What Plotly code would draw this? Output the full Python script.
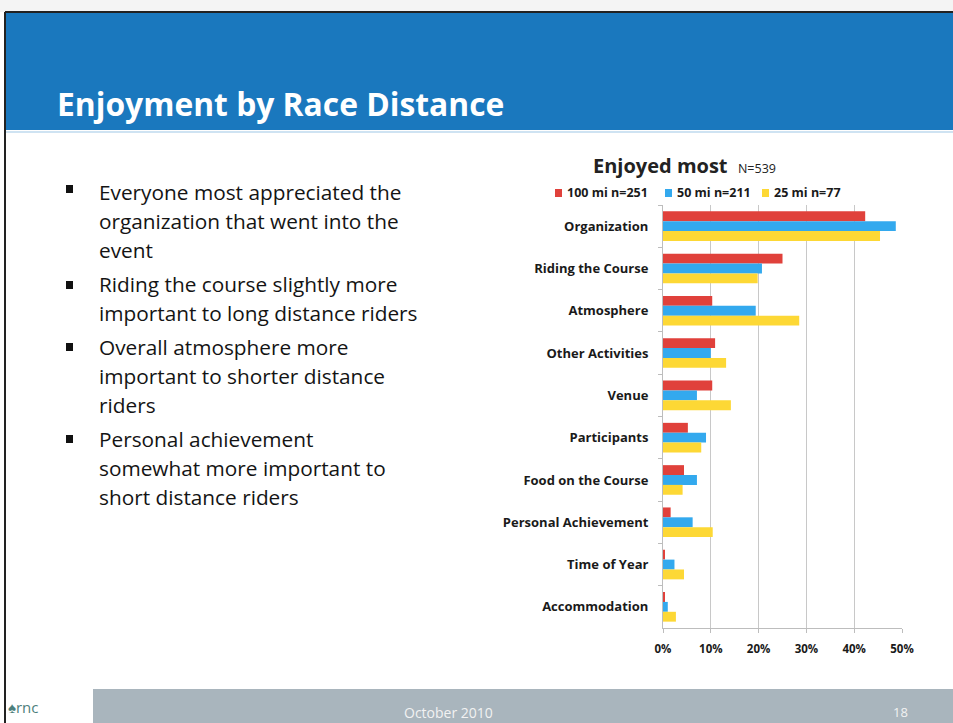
import plotly.graph_objects as go

# Survey data: share of riders naming each aspect as what they enjoyed most
categories = [
    "Organization", "Riding the Course", "Atmosphere", "Other Activities", "Venue",
    "Participants", "Food on the Course", "Personal Achievement", "Time of Year", "Accommodation",
]
series_names = ["100 mi n=251", "50 mi n=211", "25 mi n=77"]
pct_100mi = [42.3, 25.0, 10.3, 10.9, 10.3, 5.2, 4.4, 1.6, 0.4, 0.4]
pct_50mi = [48.7, 20.7, 19.4, 10.0, 7.1, 9.0, 7.1, 6.2, 2.4, 1.0]
pct_25mi = [45.4, 19.8, 28.5, 13.2, 14.2, 8.0, 4.1, 10.4, 4.4, 2.7]
series_colors = ["#e0413b", "#33a9ee", "#fdd835"]

x_ticks = [0, 10, 20, 30, 40, 50]

bullets = [
    ["Everyone most appreciated the", "organization that went into the", "event"],
    ["Riding the course slightly more", "important to long distance riders"],
    ["Overall atmosphere more", "important to shorter distance", "riders"],
    ["Personal achievement", "somewhat more important to", "short distance riders"],
]

W, H = 953, 723
FONT = "Open Sans"

# plot-area box in page pixels
PL, PR, PT, PB = 663, 902, 205, 628


def px(x):
    """page x pixel -> paper coordinate"""
    return (x - PL) / (PR - PL)


def py(y):
    """page y pixel (from top) -> paper coordinate"""
    return (PB - y) / (PB - PT)


fig = go.Figure()
for name, vals, col in zip(series_names, [pct_100mi, pct_50mi, pct_25mi], series_colors):
    fig.add_trace(go.Bar(
        y=categories, x=vals, name=name, orientation="h",
        marker=dict(color=col, line=dict(width=0)),
        showlegend=False,
    ))

shapes = [
    # slide frame
    dict(type="rect", xref="paper", yref="paper", x0=px(0), x1=px(W), y0=py(0), y1=py(12),
         fillcolor="#f4f4f4", line=dict(width=0), layer="below"),
    dict(type="line", xref="paper", yref="paper", x0=px(5), x1=px(W), y0=py(12), y1=py(12),
         line=dict(color="#222222", width=2)),
    dict(type="line", xref="paper", yref="paper", x0=px(5), x1=px(5), y0=py(H), y1=py(12),
         line=dict(color="#222222", width=2)),
    # title banner
    dict(type="rect", xref="paper", yref="paper", x0=px(6), x1=px(W), y0=py(13), y1=py(130),
         fillcolor="#1a78be", line=dict(width=0), layer="below"),
    dict(type="line", xref="paper", yref="paper", x0=px(6), x1=px(W), y0=py(132), y1=py(132),
         line=dict(color="#cfe3f2", width=2)),
    # footer bar
    dict(type="rect", xref="paper", yref="paper", x0=px(93), x1=px(W), y0=py(H), y1=py(689),
         fillcolor="#a9b5bd", line=dict(width=0), layer="below"),
]
for ys in [189, 285, 347, 439]:
    shapes.append(dict(type="rect", xref="paper", yref="paper",
                       x0=px(66), x1=px(73), y0=py(ys - 4), y1=py(ys + 4),
                       fillcolor="#111111", line=dict(width=0)))

annotations = [
    dict(text="<b>Enjoyment by Race Distance</b>", x=px(55), y=py(103), xref="paper", yref="paper",
         xanchor="left", yanchor="middle", showarrow=False,
         font=dict(family=FONT, size=31.8, color="white")),
    dict(text="<b>Enjoyed most</b>  <span style='font-size:12.5px'>N=539</span>",
         x=px(591), y=py(165), xref="paper", yref="paper",
         xanchor="left", yanchor="middle", showarrow=False,
         font=dict(family=FONT, size=20, color="#222222")),
    dict(text="October 2010", x=px(448), y=py(712), xref="paper", yref="paper",
         xanchor="center", yanchor="middle", showarrow=False,
         font=dict(family=FONT, size=14, color="#f2f2f2")),
    dict(text="18", x=px(900), y=py(712), xref="paper", yref="paper",
         xanchor="center", yanchor="middle", showarrow=False,
         font=dict(family=FONT, size=13, color="#f2f2f2")),
    dict(text="♠rnc", x=px(6), y=py(707), xref="paper", yref="paper",
         xanchor="left", yanchor="middle", showarrow=False,
         font=dict(family=FONT, size=15, color="#4d7f7c")),
]

# series key above the bars: colour square followed by its label
key_square_x = [555, 665, 762]
for name, col, kx in zip(series_names, series_colors, key_square_x):
    shapes.append(dict(type="rect", xref="paper", yref="paper",
                       x0=px(kx), x1=px(kx + 7), y0=py(189), y1=py(197),
                       fillcolor=col, line=dict(width=0)))
    annotations.append(dict(text=name, x=px(kx + 10), y=py(193), xref="paper", yref="paper",
                            xanchor="left", yanchor="middle", showarrow=False,
                            font=dict(family=FONT, size=12.5, color="#1a1a1a", weight="bold")))

line_y = 192
for block in bullets:
    for line in block:
        annotations.append(dict(text=line, x=px(97), y=py(line_y), xref="paper", yref="paper",
                                xanchor="left", yanchor="middle", showarrow=False,
                                font=dict(family=FONT, size=20.8, color="#141414")))
        line_y += 29
    line_y += 5

fig.update_layout(
    width=W, height=H,
    margin=dict(l=PL, r=W - PR, t=PT, b=H - PB, autoexpand=False),
    paper_bgcolor="white", plot_bgcolor="white",
    barmode="group", bargap=0.3, bargroupgap=0,
    font=dict(family=FONT, color="#1a1a1a"),
    showlegend=False,
    xaxis=dict(range=[0, 50], tickvals=x_ticks, ticktext=[f"{v}%" for v in x_ticks],
               showgrid=True, gridcolor="#c8c8c8", gridwidth=1,
               showline=True, linecolor="#bdbdbd", linewidth=1,
               ticks="outside", ticklen=4, tickcolor="#bdbdbd", ticklabelstandoff=6,
               zeroline=False, fixedrange=True,
               tickfont=dict(family=FONT, size=11.5, color="#1a1a1a", weight="bold")),
    yaxis=dict(categoryorder="array", categoryarray=categories, autorange="reversed",
               showline=True, linecolor="#bdbdbd", linewidth=1,
               ticks="outside", ticklen=4, tickcolor="#bdbdbd", tickson="boundaries",
               ticklabelstandoff=11, showgrid=False, fixedrange=True,
               tickfont=dict(family=FONT, size=13, color="#1a1a1a", weight="bold")),
    shapes=shapes, annotations=annotations,
)

fig.write_html("out.html")
